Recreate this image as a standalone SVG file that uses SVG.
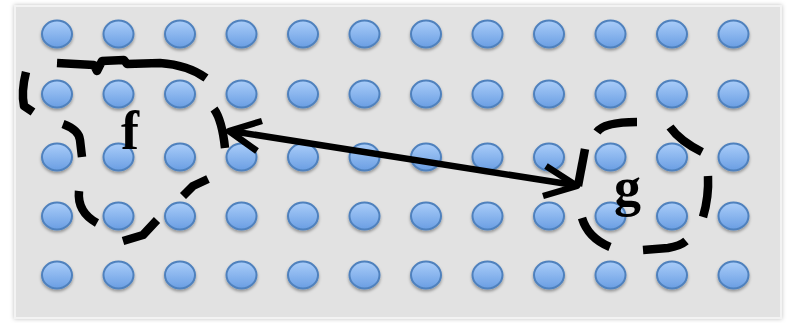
<svg xmlns="http://www.w3.org/2000/svg" width="790" height="323" viewBox="0 0 790 323">
<defs>
<linearGradient id="dotg" x1="0" y1="0" x2="0" y2="1">
<stop offset="0" stop-color="#aacdf9"/>
<stop offset="1" stop-color="#6a9ee3"/>
</linearGradient>
<filter id="sh" x="-30%" y="-30%" width="160%" height="170%">
<feDropShadow dx="0" dy="2" stdDeviation="1.4" flood-color="#000" flood-opacity="0.35"/>
</filter>
<filter id="fsh" x="-5%" y="-5%" width="110%" height="110%">
<feDropShadow dx="0" dy="0" stdDeviation="2" flood-color="#000" flood-opacity="0.25"/>
</filter>
<ellipse id="dot" rx="15" ry="13.5"/>
</defs>
<style>
.dot{fill:url(#dotg);stroke:#4f81bd;stroke-width:2;filter:url(#sh)}
.dash{fill:none;stroke:#000;stroke-width:8.5;stroke-linejoin:round;stroke-linecap:butt}
.arr{fill:none;stroke:#000;stroke-width:6.5;stroke-linejoin:round;stroke-linecap:butt}
.lbl{font-family:"Liberation Serif","DejaVu Serif",serif;font-weight:bold;font-size:54px;fill:#000}
</style>
<rect width="790" height="323" fill="#ffffff"/>
<rect x="15" y="6" width="766" height="312" fill="#e2e2e2" stroke="#f3f3f3" stroke-width="2" filter="url(#fsh)"/>
<g id="grid">
<g id="row1">
<use href="#dot" class="dot" x="57" y="34"/><use href="#dot" class="dot" x="118.5" y="34"/><use href="#dot" class="dot" x="180" y="34"/><use href="#dot" class="dot" x="241.5" y="34"/><use href="#dot" class="dot" x="303" y="34"/><use href="#dot" class="dot" x="364.5" y="34"/><use href="#dot" class="dot" x="426" y="34"/><use href="#dot" class="dot" x="487.5" y="34"/><use href="#dot" class="dot" x="549" y="34"/><use href="#dot" class="dot" x="610.5" y="34"/><use href="#dot" class="dot" x="672" y="34"/><use href="#dot" class="dot" x="733.5" y="34"/>
</g>
<g id="row2">
<use href="#dot" class="dot" x="57" y="94"/><use href="#dot" class="dot" x="118.5" y="94"/><use href="#dot" class="dot" x="180" y="94"/><use href="#dot" class="dot" x="241.5" y="94"/><use href="#dot" class="dot" x="303" y="94"/><use href="#dot" class="dot" x="364.5" y="94"/><use href="#dot" class="dot" x="426" y="94"/><use href="#dot" class="dot" x="487.5" y="94"/><use href="#dot" class="dot" x="549" y="94"/><use href="#dot" class="dot" x="610.5" y="94"/><use href="#dot" class="dot" x="672" y="94"/><use href="#dot" class="dot" x="733.5" y="94"/>
</g>
<g id="row3">
<use href="#dot" class="dot" x="57" y="157"/><use href="#dot" class="dot" x="118.5" y="157"/><use href="#dot" class="dot" x="180" y="157"/><use href="#dot" class="dot" x="241.5" y="157"/><use href="#dot" class="dot" x="303" y="157"/><use href="#dot" class="dot" x="364.5" y="157"/><use href="#dot" class="dot" x="426" y="157"/><use href="#dot" class="dot" x="487.5" y="157"/><use href="#dot" class="dot" x="549" y="157"/><use href="#dot" class="dot" x="610.5" y="157"/><use href="#dot" class="dot" x="672" y="157"/><use href="#dot" class="dot" x="733.5" y="157"/>
</g>
<g id="row4">
<use href="#dot" class="dot" x="57" y="216"/><use href="#dot" class="dot" x="118.5" y="216"/><use href="#dot" class="dot" x="180" y="216"/><use href="#dot" class="dot" x="241.5" y="216"/><use href="#dot" class="dot" x="303" y="216"/><use href="#dot" class="dot" x="364.5" y="216"/><use href="#dot" class="dot" x="426" y="216"/><use href="#dot" class="dot" x="487.5" y="216"/><use href="#dot" class="dot" x="549" y="216"/><use href="#dot" class="dot" x="610.5" y="216"/><use href="#dot" class="dot" x="672" y="216"/><use href="#dot" class="dot" x="733.5" y="216"/>
</g>
<g id="row5">
<use href="#dot" class="dot" x="57" y="275"/><use href="#dot" class="dot" x="118.5" y="275"/><use href="#dot" class="dot" x="180" y="275"/><use href="#dot" class="dot" x="241.5" y="275"/><use href="#dot" class="dot" x="303" y="275"/><use href="#dot" class="dot" x="364.5" y="275"/><use href="#dot" class="dot" x="426" y="275"/><use href="#dot" class="dot" x="487.5" y="275"/><use href="#dot" class="dot" x="549" y="275"/><use href="#dot" class="dot" x="610.5" y="275"/><use href="#dot" class="dot" x="672" y="275"/><use href="#dot" class="dot" x="733.5" y="275"/>
</g>
</g>
<g id="node-f">
<path class="dash" d="M57,63 L94,65 L97,71 L102,61 L124,60 L127,64 L160,63 Q188,65 206,78"/>
<path class="dash" d="M26,72 Q21,92 24,106 L33,112"/>
<path class="dash" d="M63,124 Q79,130 80,140 L82,157"/>
<path class="dash" d="M214,109 Q222,120 225,148"/>
<path class="dash" d="M79,191 Q77,212 97,223"/>
<path class="dash" d="M123,241 L143,235 L157,220"/>
<path class="dash" d="M183,196 L193,186 L208,179"/>
<text class="lbl" x="121" y="149">f</text>
</g>
<g id="node-g">
<path class="dash" d="M597,132 Q604,122 637,122"/>
<path class="dash" d="M670,127 Q680,141 702,152"/>
<path class="dash" d="M708,176 Q709,197 703,217"/>
<path class="dash" d="M643,250 L668,248 Q680,246 686,241"/>
<path class="dash" d="M582,218 Q588,238 610,247"/>
<path class="dash" d="M585,149 L578,186"/>
<text class="lbl" x="614" y="205">g</text>
</g>
<g id="connectors">
<path class="arr" d="M231,131 L574,185"/>
<path class="arr" d="M262,121 L229,131 L257,151"/>
<path class="arr" d="M546,166 L577,186 L543,196"/>
</g>
</svg>
